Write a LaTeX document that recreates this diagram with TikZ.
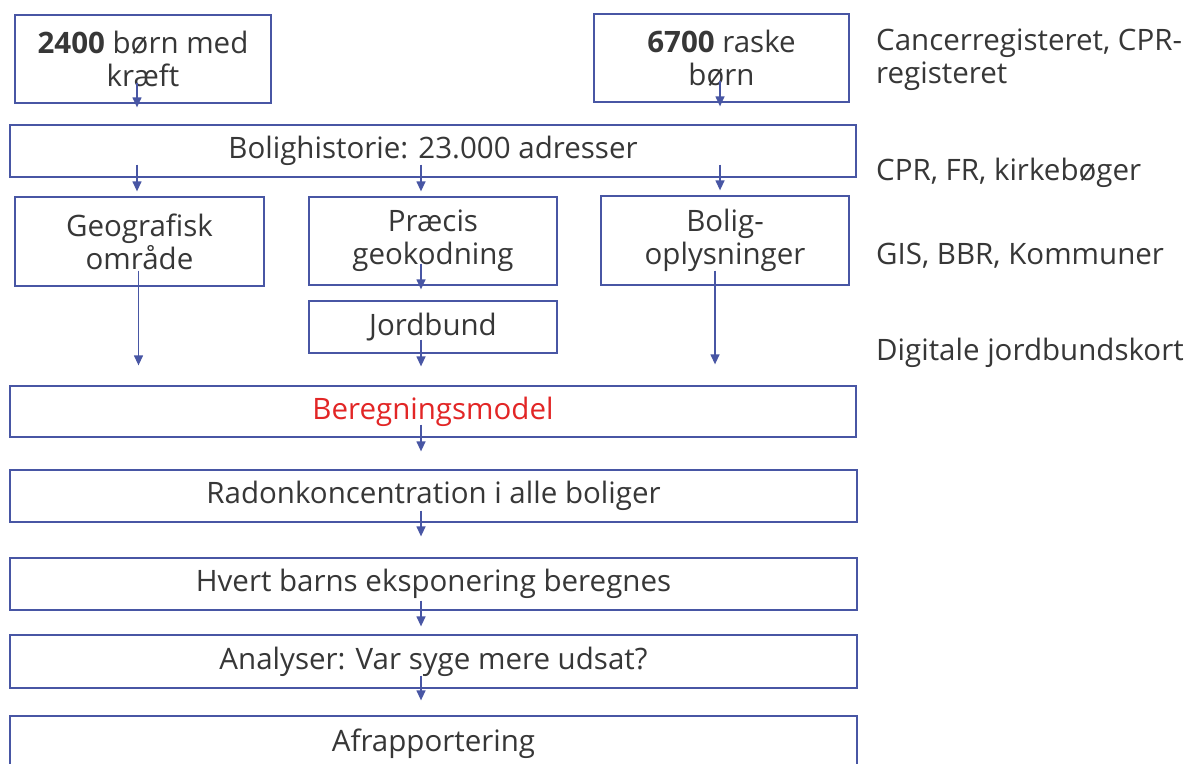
\documentclass[tikz,border=0pt]{standalone}
\usepackage{fontspec}
\setmainfont{Open Sans}
\usepackage{tikz}
\usetikzlibrary{arrows.meta}

\definecolor{lineblue}{RGB}{72,86,164}
\definecolor{inkgray}{RGB}{55,55,55}
\definecolor{calcred}{RGB}{226,38,38}

\tikzset{
	box/.style={draw=lineblue,line width=1.3pt,inner sep=0pt,align=center,text=inkgray},
	source/.style={anchor=west,inner sep=0pt,align=left,text=inkgray},
	flow/.style={draw=lineblue,line width=1.3pt,-{Triangle[length=10pt,width=9pt]}}
}

\begin{document}
\begin{tikzpicture}[x=1pt,y=-1pt,font=\fontsize{29.5}{33}\selectfont]
					\fill[white] (0,0) rectangle (1201,763);
					\clip (0,0) rectangle (1201,763);
					\coordinate (colA) at (137,0);
					\coordinate (colB) at (421,0);
					\coordinate (colC) at (720,0);

					\node (kids) [box,minimum width=256pt,minimum height=88pt] at (143,59) {\textbf{2400} børn med\\kræft};
					\node (healthy) [box,minimum width=255pt,minimum height=88pt] at (721.5,58) {\textbf{6700} raske\\børn};
					\node (hist) [box,minimum width=846pt,minimum height=52pt] at (433,151) {Bolighistorie: 23.000 adresser};
					\node (geo) [box,minimum width=249pt,minimum height=89pt] at (139.5,241.5) {Geografisk\\område};
					\node (geocode) [box,minimum width=248pt,minimum height=88pt] at (433,241) {Præcis\\geokodning};
					\node (housing) [box,minimum width=248pt,minimum height=89pt] at (725,240.5) {Bolig-\\oplysninger};
					\node (soil) [box,minimum width=248pt,minimum height=52pt] at (433,327) {Jordbund};
					\node (model) [box,minimum width=846pt,minimum height=51pt,text=calcred] at (433,411.5) {Beregningsmodel};
					\node (radon) [box,minimum width=847pt,minimum height=52pt] at (433.5,496) {Radonkoncentration i alle boliger};
					\node (exposure) [box,minimum width=847pt,minimum height=52pt] at (433.5,584) {Hvert barns eksponering beregnes};
					\node (analysis) [box,minimum width=847pt,minimum height=53pt] at (433.5,661.5) {Analyser: Var syge mere udsat?};
					\node (report) [box,minimum width=847pt,minimum height=56pt] at (433.5,744) {Afrapportering};

					\node (src1) [source] at (876,60) {Cancerregisteret, CPR-\\registeret};
					\node (src2) [source] at (876,173) {CPR, FR, kirkebøger};
					\node (src3) [source] at (876,256) {GIS, BBR, Kommuner};
					\node (src4) [source] at (876,353) {Digitale jordbundskort};

					\draw[flow] ([yshift=21pt]kids.south -| colA) -- ([yshift=17pt]hist.north -| colA);
					\draw[flow] ([yshift=22pt]healthy.south -| colC) -- ([yshift=18pt]hist.north -| colC);
					\draw[flow] ([yshift=13pt]hist.south -| colA) -- ([yshift=5pt]geo.north -| colA);
					\draw[flow] ([yshift=13pt]hist.south -| colB) -- ([yshift=5pt]geocode.north -| colB);
					\draw[flow] ([yshift=13pt]hist.south -| colC) -- ([yshift=5pt]housing.north -| colC);
					\draw[flow] ([yshift=16pt,xshift=1.5pt]geo.south -| colA) -- ([yshift=20pt,xshift=1.5pt]model.north -| colA);
					\draw[flow] ([yshift=22pt]geocode.south -| colB) -- ([yshift=11pt]soil.north -| colB);
					\draw[flow] ([yshift=15pt,xshift=-5pt]housing.south -| colC) -- ([yshift=21pt,xshift=-5pt]model.north -| colC);
					\draw[flow] ([yshift=14pt]soil.south -| colB) -- ([yshift=19pt]model.north -| colB);
					\draw[flow] ([yshift=13pt]model.south -| colB) -- ([yshift=18pt]radon.north -| colB);
					\draw[flow] ([yshift=12pt]radon.south -| colB) -- ([yshift=21pt]exposure.north -| colB);
					\draw[flow] ([yshift=10pt]exposure.south -| colB) -- ([yshift=8pt]analysis.north -| colB);
					\draw[flow] ([yshift=13pt]analysis.south -| colB) -- ([yshift=15pt]report.north -| colB);
				\end{tikzpicture}
\end{document}
